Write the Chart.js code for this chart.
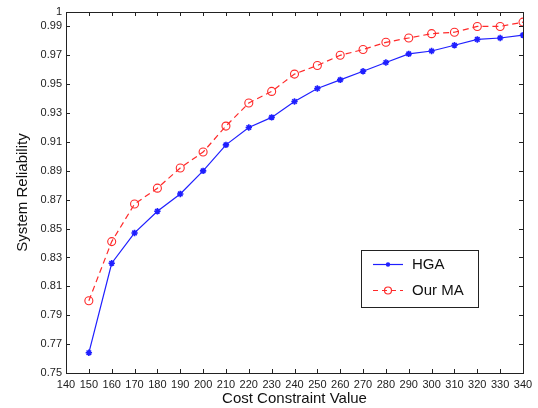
<!DOCTYPE html>
<html>
<head>
<meta charset="utf-8">
<script src="https://cdn.jsdelivr.net/npm/chart.js@4"></script>
<style>
  html, body { margin: 0; padding: 0; background: #fff; }
  #wrap { width: 538px; height: 408px; }
</style>
</head>
<body>
<div id="wrap"><canvas id="chart" width="538" height="408"></canvas></div>
<script>
const costValues = [150, 160, 170, 180, 190, 200, 210, 220, 230, 240, 250, 260, 270, 280, 290, 300, 310, 320, 330, 340];
const hgaValues = [0.764, 0.826, 0.847, 0.862, 0.874, 0.890, 0.908, 0.920, 0.927, 0.938, 0.947, 0.953, 0.959, 0.965, 0.971, 0.973, 0.977, 0.981, 0.982, 0.984];
const maValues = [0.800, 0.841, 0.867, 0.878, 0.892, 0.903, 0.921, 0.937, 0.945, 0.957, 0.963, 0.970, 0.974, 0.979, 0.982, 0.985, 0.986, 0.990, 0.990, 0.993];
const xTicks = [140, 150, 160, 170, 180, 190, 200, 210, 220, 230, 240, 250, 260, 270, 280, 290, 300, 310, 320, 330, 340];
const yTicks = [0.75, 0.77, 0.79, 0.81, 0.83, 0.85, 0.87, 0.89, 0.91, 0.93, 0.95, 0.97, 0.99, 1];
const yTickLabels = ['0.75', '0.77', '0.79', '0.81', '0.83', '0.85', '0.87', '0.89', '0.91', '0.93', '0.95', '0.97', '0.99', '1'];

const FONT = '"Liberation Sans", Arial, Helvetica, sans-serif';
const BLUE = '#1f1fff';
const RED = '#ff2a2a';

// box, inward ticks, axis titles and legend, drawn on top of the chart area
const frame = {
  id: 'frame',
  afterDraw(chart) {
    const { ctx, chartArea: a, scales } = chart;
    ctx.save();
    ctx.strokeStyle = '#222';
    ctx.lineWidth = 1;
    ctx.strokeRect(a.left + 0.5, a.top + 0.5, a.right - a.left, a.bottom - a.top);

    ctx.beginPath();
    xTicks.forEach(v => {
      const x = Math.round(scales.x.getPixelForValue(v)) + 0.5;
      ctx.moveTo(x, a.bottom); ctx.lineTo(x, a.bottom - 4);
      ctx.moveTo(x, a.top); ctx.lineTo(x, a.top + 4);
    });
    yTicks.forEach(v => {
      const y = Math.round(scales.y.getPixelForValue(v)) + 0.5;
      ctx.moveTo(a.left, y); ctx.lineTo(a.left + 4, y);
      ctx.moveTo(a.right, y); ctx.lineTo(a.right - 4, y);
    });
    ctx.stroke();

    // axis titles
    ctx.fillStyle = '#111';
    ctx.font = '15px ' + FONT;
    ctx.textAlign = 'center';
    ctx.textBaseline = 'middle';
    ctx.fillText('Cost Constraint Value', (a.left + a.right) / 2, 399);
    ctx.save();
    ctx.translate(23, (a.top + a.bottom) / 2);
    ctx.rotate(-Math.PI / 2);
    ctx.fillText('System Reliability', 0, 0);
    ctx.restore();

    // legend
    const lx = 361, ly = 250, lw = 117, lh = 57;
    ctx.fillStyle = '#fff';
    ctx.fillRect(lx, ly, lw, lh);
    ctx.strokeStyle = '#222';
    ctx.strokeRect(lx + 0.5, ly + 0.5, lw, lh);
    ctx.textAlign = 'left';
    ctx.fillStyle = '#111';

    let y = 264.5;
    ctx.strokeStyle = BLUE;
    ctx.lineWidth = 1.2;
    ctx.beginPath(); ctx.moveTo(373, y); ctx.lineTo(403, y); ctx.stroke();
    ctx.fillStyle = BLUE;
    ctx.beginPath(); ctx.arc(388, y, 2.2, 0, Math.PI * 2); ctx.fill();
    ctx.fillStyle = '#111';
    ctx.fillText('HGA', 412, y);

    y = 290.5;
    ctx.strokeStyle = RED;
    ctx.setLineDash([5, 4]);
    ctx.beginPath(); ctx.moveTo(373, y); ctx.lineTo(403, y); ctx.stroke();
    ctx.setLineDash([]);
    ctx.beginPath(); ctx.arc(388, y, 3.5, 0, Math.PI * 2); ctx.stroke();
    ctx.fillText('Our MA', 412, y);
    ctx.restore();
  }
};

new Chart(document.getElementById('chart'), {
  type: 'line',
  data: {
    datasets: [
      {
        label: 'HGA',
        data: costValues.map((c, i) => ({ x: c, y: hgaValues[i] })),
        borderColor: BLUE,
        backgroundColor: BLUE,
        borderWidth: 1.2,
        pointStyle: 'star',
        pointRadius: 3.2,
        pointBorderWidth: 1.6,
        pointBorderColor: BLUE,
        tension: 0
      },
      {
        label: 'Our MA',
        data: costValues.map((c, i) => ({ x: c, y: maValues[i] })),
        borderColor: RED,
        backgroundColor: 'rgba(0,0,0,0)',
        borderWidth: 1.2,
        borderDash: [6, 4],
        pointStyle: 'circle',
        pointRadius: 4,
        pointBorderWidth: 1.1,
        pointBorderColor: RED,
        tension: 0
      }
    ]
  },
  options: {
    responsive: false,
    animation: false,
    layout: { padding: { top: 12, right: 15, left: 0, bottom: 0 } },
    plugins: { legend: { display: false }, tooltip: { enabled: false } },
    scales: {
      x: {
        type: 'linear',
        min: 140, max: 340,
        afterBuildTicks: s => { s.ticks = xTicks.map(v => ({ value: v })); },
        afterFit: s => { s.height = 35; },
        grid: { display: false, drawTicks: false },
        border: { display: false },
        ticks: { autoSkip: false, maxRotation: 0, color: '#222', padding: 5, font: { size: 11, family: FONT } }
      },
      y: {
        type: 'linear',
        min: 0.75, max: 1,
        afterBuildTicks: s => { s.ticks = yTicks.map(v => ({ value: v })); },
        afterFit: s => { s.width = 66; },
        grid: { display: false, drawTicks: false },
        border: { display: false },
        ticks: {
          color: '#222', padding: 4, font: { size: 11, family: FONT },
          callback: (v) => { const i = yTicks.indexOf(v); return i >= 0 ? yTickLabels[i] : ''; }
        }
      }
    }
  },
  plugins: [frame]
});
</script>
</body>
</html>
